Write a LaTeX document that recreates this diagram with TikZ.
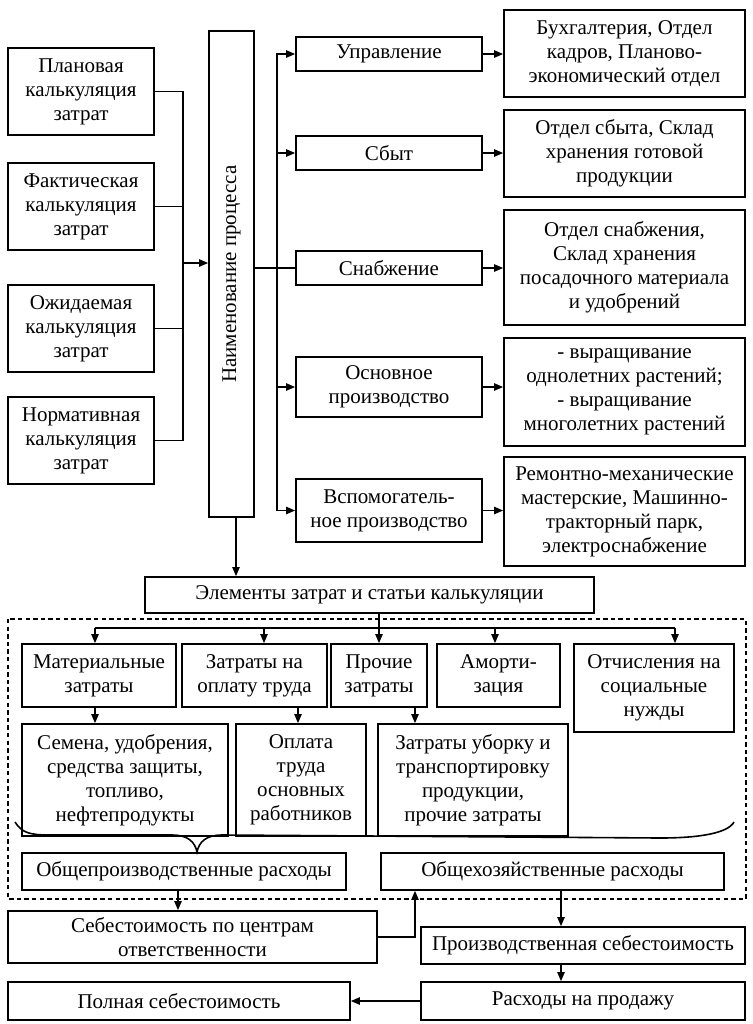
\documentclass[tikz,border=0pt]{standalone}
\usepackage{fontspec,graphicx}
\setmainfont{Liberation Serif}
\usetikzlibrary{arrows.meta,calc}
\tikzset{>={Triangle[length=4.5pt,width=3.6pt]},every node/.style={font=\fontsize{10.5}{12}\selectfont},
box/.style={draw,thick,align=center,inner sep=1pt},sz/.style 2 args={minimum width=#1*.5pt,minimum height=#2*.5pt},
flow/.style={thick,->},edge/.style={thick},frame/.style={thick,dash pattern=on 2.2pt off 1.6pt}}
\begin{document}
\begin{tikzpicture}[x=.5pt,y=-.5pt]
\useasboundingbox (0,0) rectangle (752,1024);
\foreach \n/\y/\t in {pl/91.5/Плановая,fk/206.5/Фактическая,oz/328.5/Ожидаемая,nr/440.5/Нормативная}{\node[box,sz={146}{87}] (\n) at (81,\y) {\t\\калькуляция\\затрат};}
\node[box,sz={45}{486}] (proc) at (231.5,274) {\rotatebox{90}{Наименование процесса}};
\node[box,sz={186}{34}] (upr) at (389,54) {Управление};
\node[box,sz={186}{34}] (sbyt) at (389,153) {Сбыт};
\node[box,sz={186}{34}] (snab) at (389,268) {Снабжение};
\node[box,sz={186}{60}] (osn) at (389,387) {Основное\\производство};
\node[box,sz={186}{63}] (vsp) at (389,510.5) {Вспомогатель-\\ное производство};
\node[box,sz={241}{87}] (buh) at (624.5,53.5) {Бухгалтерия, Отдел\\кадров, Планово-\\экономический отдел};
\node[box,sz={241}{87}] (skl) at (624.5,153.5) {Отдел сбыта, Склад\\хранения готовой\\продукции};
\node[box,sz={241}{115}] (otsn) at (624.5,267.5) {Отдел снабжения,\\Склад хранения\\посадочного материала\\и удобрений};
\node[box,sz={241}{108}] (vyr) at (624.5,392) {- выращивание\\однолетних растений;\\- выращивание\\многолетних растений};
\node[box,sz={241}{109}] (rem) at (624.5,511.5) {Ремонтно-механические\\мастерские, Машинно-\\тракторный парк,\\электроснабжение};
\coordinate (lb) at (183,263);\coordinate (rb) at (277,268);
\foreach \n in {pl,fk,oz,nr}{\draw[edge] (\n.east) -| (lb);}
\draw[flow] (lb) -- (lb -| proc.west);
\draw[edge] (proc.east |- snab.west) -- (snab.west);
\foreach \n in {upr,sbyt,osn,vsp}{\draw[flow] (rb) |- (\n.west);}
\foreach \a/\b in {upr/buh,sbyt/skl,snab/otsn,osn/vyr,vsp/rem}{\draw[flow] (\a.east) -- (\a.east -| \b.west);}
\node[box,sz={449}{36}] (el) at (369.5,595) {Элементы затрат и статьи калькуляции};
\draw[flow] ([xshift=2.25pt]proc.south) -- ([xshift=2.25pt]proc.south |- el.north);
\draw[frame] (8,619) rectangle (746,899);
\node[box,sz={154}{63}] (mat) at (99,675.5) {Материальные\\затраты};
\node[box,sz={145}{63}] (opl) at (254.5,675.5) {Затраты на\\оплату труда};
\node[box,sz={96}{63}] (prc) at (379,675.5) {Прочие\\затраты};
\node[box,sz={123}{63}] (amr) at (498.5,675.5) {Аморти-\\зация};
\node[box,sz={160}{88}] (otc) at (654,688) {Отчисления на\\социальные\\нужды};
\coordinate (bar) at (0,628);
\draw[edge] ([xshift=-2pt]mat.north |- bar) -- ([xshift=10.5pt]otc.north |- bar);
\draw[flow] (prc.north |- el.south) -- (prc.north);
\foreach \n/\d in {mat/-2pt,opl/4.75pt,amr/-1.75pt,otc/10.5pt}{\draw[flow] ([xshift=\d]\n.north |- bar) -- ([xshift=\d]\n.north);}
\node[box,sz={206}{112}] (sem) at (125,780) {Семена, удобрения,\\средства защиты,\\топливо,\\нефтепродукты};
\node[box,sz={130}{112}] (opt) at (301,780) {Оплата\\труда\\основных\\работников};
\node[box,sz={190}{112}] (ubr) at (473,780) {Затраты уборку и\\транспортировку\\продукции,\\прочие затраты};
\draw[flow] ([xshift=-2pt]mat.south) -- ([xshift=-2pt]mat.south |- sem.north);
\draw[flow] ([xshift=-1.5pt]opt.north |- opl.south) -- ([xshift=-1.5pt]opt.north);
\draw[flow] ([xshift=18pt]prc.south) -- ([xshift=18pt]prc.south |- ubr.north);
\draw[edge] (15,822) .. controls (22,833) and (30,835) .. (50,835) -- (172,835) .. controls (188,835) and (195,842) .. (197,852) .. controls (199,842) and (206,835) .. (222,835) -- (660,838) .. controls (700,838) and (728,833) .. (734,822);
\node[box,sz={324}{37}] (obp) at (184,871.5) {Общепроизводственные расходы};
\node[box,sz={343}{37}] (obx) at (552.5,871.5) {Общехозяйственные расходы};
\node[box,sz={369}{52}] (seb) at (192.5,937) {Себестоимость по центрам\\ответственности};
\node[box,sz={324}{37}] (prs) at (583,945.5) {Производственная себестоимость};
\node[box,sz={324}{38}] (rsp) at (583,1001) {Расходы на продажу};
\node[box,sz={342}{38}] (pol) at (179,1001) {Полная себестоимость};
\draw[flow] ([xshift=-3pt]obp.south) -- ([xshift=-3pt]obp.south |- seb.north);
\draw[flow] (seb.east) -| ([xshift=-68.75pt]obx.south);
\draw[flow] ([xshift=4.25pt]obx.south) -- ([xshift=4.25pt]obx.south |- prs.north);
\draw[flow] ([xshift=-11pt]prs.south) -- ([xshift=-11pt]prs.south |- rsp.north);
\draw[flow] (rsp.west) -- (rsp.west -| pol.east);
\end{tikzpicture}
\end{document}
